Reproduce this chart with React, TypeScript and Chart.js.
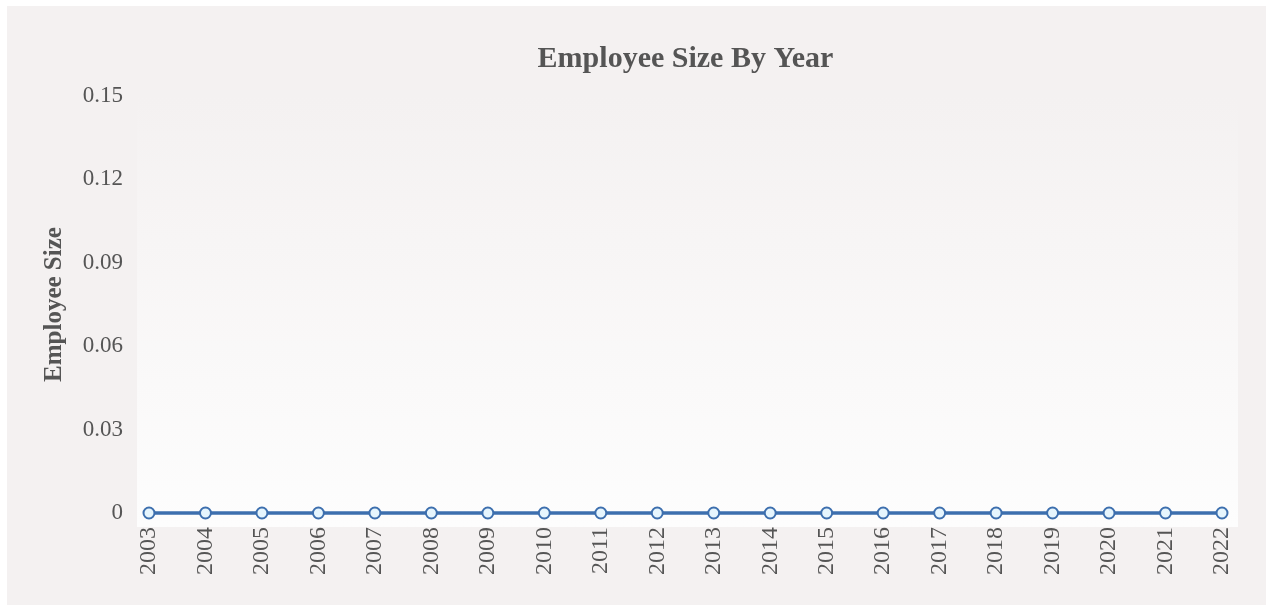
import React, { useEffect, useRef } from "react";
import { Chart, registerables } from "chart.js";

Chart.register(...registerables);

const years = ["2003","2004","2005","2006","2007","2008","2009","2010","2011","2012","2013","2014","2015","2016","2017","2018","2019","2020","2021","2022"];
const employeeSize = [0,0,0,0,0,0,0,0,0,0,0,0,0,0,0,0,0,0,0,0];
const yMin = 0;
const yMax = 0.15;
const yStep = 0.03;
const chartTitle = "Employee Size By Year";
const yTitle = "Employee Size";

const FONT = "'Liberation Serif', 'Times New Roman', serif";
const TEXT = "#555555";

const bgPlugin = {
  id: "plotBg",
  beforeDraw(chart: any) {
    const { ctx, chartArea } = chart;
    if (!chartArea) return;
    const l = chartArea.left - 12;
    const r = chartArea.right + 16;
    const t = chartArea.top;
    const b = chartArea.bottom + 14;
    const g = ctx.createLinearGradient(0, t, 0, b);
    g.addColorStop(0, "#f4f1f1");
    g.addColorStop(1, "#fdfdfd");
    ctx.save();
    ctx.fillStyle = g;
    ctx.fillRect(l, t, r - l, b - t);
    ctx.restore();
  },
  afterDraw(chart: any) {
    const { ctx, chartArea } = chart;
    ctx.save();
    ctx.font = `bold 30px ${FONT}`;
    ctx.fillStyle = TEXT;
    ctx.textAlign = "center";
    ctx.textBaseline = "middle";
    ctx.fillText(chartTitle, (chartArea.left + chartArea.right) / 2, 53);
    ctx.restore();
  },
};

export default function App() {
  const ref = useRef<HTMLCanvasElement | null>(null);
  useEffect(() => {
    if (!ref.current) return;
    const chart = new Chart(ref.current, {
      type: "line",
      data: {
        labels: years,
        datasets: [
          {
            label: yTitle,
            data: employeeSize,
            borderColor: "#3d6fae",
            borderWidth: 3.5,
            backgroundColor: "#e6f5fd",
            pointBackgroundColor: "#e6f5fd",
            pointBorderColor: "#3d6fae",
            pointBorderWidth: 2,
            pointRadius: 5.5,
            tension: 0,
            fill: false,
            clip: false,
          },
        ],
      },
      options: {
        animation: false,
        responsive: false,
        maintainAspectRatio: false,
        layout: { padding: { top: 90, right: 44, left: 0, bottom: 0 } },
        plugins: {
          legend: { display: false },
          title: { display: false },
          tooltip: { enabled: false },
        },
        scales: {
          x: {
            offset: false,
            grid: { display: false, drawTicks: false },
            border: { display: false },
            ticks: {
              minRotation: 90,
              maxRotation: 90,
              padding: 14,
              color: TEXT,
              font: { family: FONT, size: 24 },
              autoSkip: false,
            },
            afterFit(scale: any) {
              scale.height = 92;
            },
          },
          y: {
            min: yMin,
            max: yMax,
            grid: { display: false, drawTicks: false },
            border: { display: false },
            ticks: {
              stepSize: yStep,
              padding: 26,
              color: TEXT,
              font: { family: FONT, size: 23 },
              callback: (v: any) => Number(Number(v).toFixed(2)).toString(),
            },
            title: {
              display: true,
              text: yTitle,
              color: TEXT,
              font: { family: FONT, size: 25, weight: "bold" },
              padding: { top: 33, bottom: 0 },
            },
            afterFit(scale: any) {
              scale.width = 142;
            },
          },
        },
      },
      plugins: [bgPlugin],
    });
    return () => chart.destroy();
  }, []);
  return (
    <div
      style={{
        position: "absolute",
        left: 7,
        top: 6,
        width: 1259,
        height: 599,
        background: "#f4f1f1",
      }}
    >
      <canvas ref={ref} width={1259} height={599} style={{ display: "block" }} />
    </div>
  );
}
